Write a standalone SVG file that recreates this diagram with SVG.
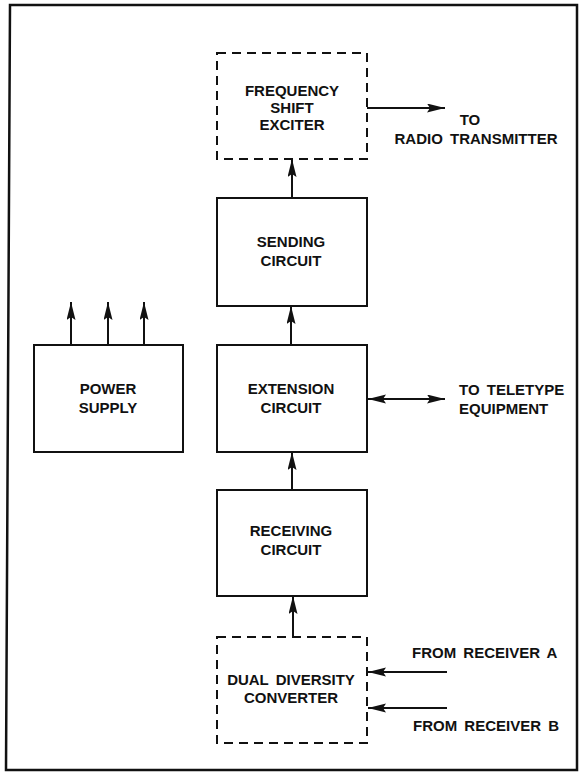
<svg xmlns="http://www.w3.org/2000/svg" width="579" height="774" viewBox="0 0 579 774">
<style>
.box{fill:none;stroke:#111;stroke-width:2}
.dash{fill:none;stroke:#111;stroke-width:2;stroke-dasharray:9 6}
.lbl{font-family:"Liberation Sans",Arial,sans-serif;font-weight:bold;font-size:15px;fill:#111;text-anchor:middle;word-spacing:3px}
.side{font-family:"Liberation Sans",Arial,sans-serif;font-weight:bold;font-size:15px;fill:#111;word-spacing:3px}
.ln{fill:none;stroke:#111;stroke-width:2}
</style>
<defs>
<marker id="ah" markerUnits="userSpaceOnUse" markerWidth="20" markerHeight="10" refX="18" refY="4.5" orient="auto-start-reverse">
<path d="M0,0 L18,4.5 L0,9 L3,4.5 z" fill="#111"/>
</marker>
</defs>
<rect width="579" height="774" fill="#fff"/>
<path d="M10,5 L577,5 L577,770 L6,770 Z" fill="none" stroke="#111" stroke-width="2.5"/>

<g id="exciter">
<rect class="dash" x="217" y="53" width="150" height="106"/>
<text class="lbl" x="292" y="96">FREQUENCY</text>
<text class="lbl" x="292" y="113">SHIFT</text>
<text class="lbl" x="292" y="130">EXCITER</text>
</g>
<g id="sending">
<rect class="box" x="217" y="198" width="150" height="108"/>
<text class="lbl" x="291" y="247">SENDING</text>
<text class="lbl" x="291" y="266">CIRCUIT</text>
</g>
<g id="power">
<rect class="box" x="34" y="345" width="149" height="107"/>
<text class="lbl" x="108" y="394">POWER</text>
<text class="lbl" x="108" y="413">SUPPLY</text>
</g>
<g id="extension">
<rect class="box" x="217" y="345" width="150" height="107"/>
<text class="lbl" x="291" y="394">EXTENSION</text>
<text class="lbl" x="291" y="413">CIRCUIT</text>
</g>
<g id="receiving">
<rect class="box" x="217" y="490" width="150" height="106"/>
<text class="lbl" x="291" y="536">RECEIVING</text>
<text class="lbl" x="291" y="555">CIRCUIT</text>
</g>
<g id="converter">
<rect class="dash" x="217" y="637" width="150" height="106"/>
<text class="lbl" x="291" y="685">DUAL DIVERSITY</text>
<text class="lbl" x="291" y="703">CONVERTER</text>
</g>
<g id="labels">
<text class="lbl" x="470" y="125">TO</text>
<text class="lbl" x="476" y="144">RADIO TRANSMITTER</text>
<text class="side" x="459" y="395">TO TELETYPE</text>
<text class="side" x="459" y="414">EQUIPMENT</text>
<text class="side" x="412" y="658">FROM RECEIVER A</text>
<text class="side" x="413" y="731">FROM RECEIVER B</text>
</g>
<g id="connectors">
<line class="ln" x1="367" y1="108" x2="445" y2="108" marker-end="url(#ah)"/>
<line class="ln" x1="292" y1="198" x2="292" y2="159" marker-end="url(#ah)"/>
<line class="ln" x1="291" y1="345" x2="291" y2="306" marker-end="url(#ah)"/>
<line class="ln" x1="292" y1="490" x2="292" y2="452" marker-end="url(#ah)"/>
<line class="ln" x1="293" y1="637" x2="293" y2="596" marker-end="url(#ah)"/>
<line class="ln" x1="71" y1="345" x2="71" y2="302" marker-end="url(#ah)"/>
<line class="ln" x1="108" y1="345" x2="108" y2="302" marker-end="url(#ah)"/>
<line class="ln" x1="144" y1="345" x2="144" y2="302" marker-end="url(#ah)"/>
<line class="ln" x1="368" y1="399" x2="445" y2="399" marker-start="url(#ah)" marker-end="url(#ah)"/>
<line class="ln" x1="447" y1="672" x2="368" y2="672" marker-end="url(#ah)"/>
<line class="ln" x1="447" y1="708" x2="368" y2="708" marker-end="url(#ah)"/>
</g>
</svg>
